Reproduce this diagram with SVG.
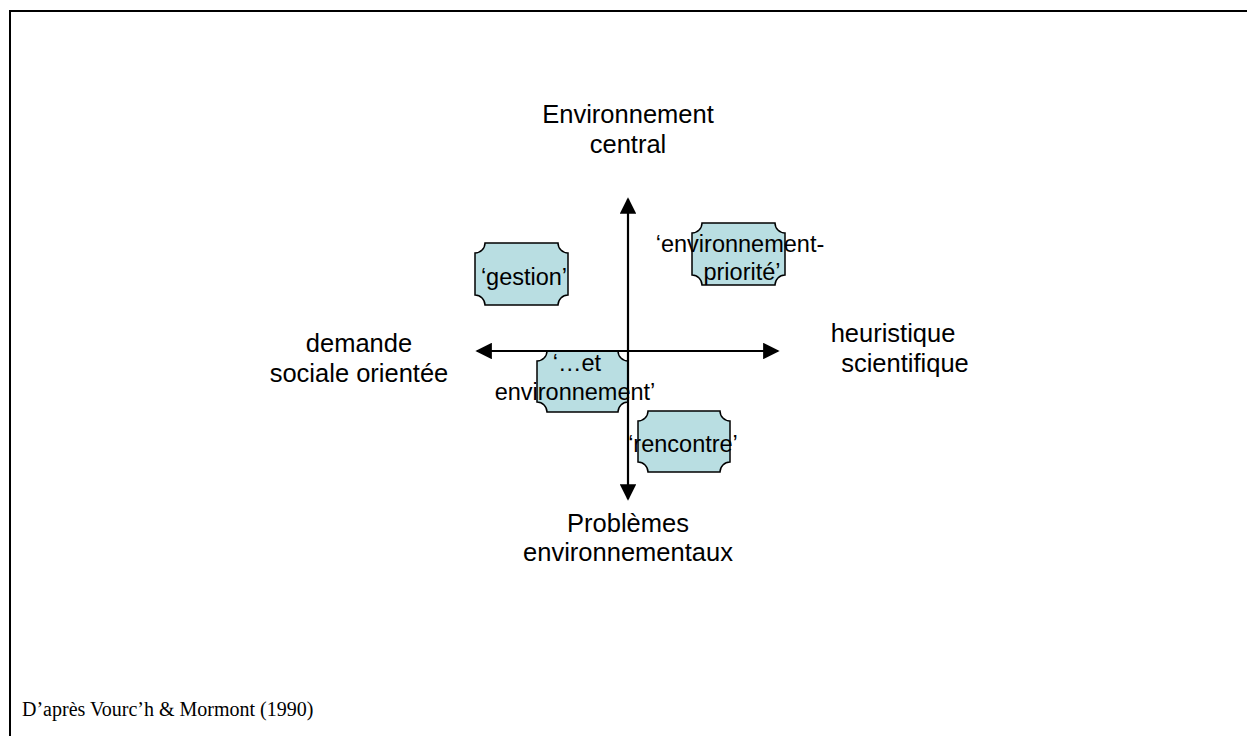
<svg xmlns="http://www.w3.org/2000/svg" width="1247" height="736" viewBox="0 0 1247 736">
<style>
.lbl{font-family:"Liberation Sans",Arial,sans-serif;font-size:25.5px;fill:#000;text-anchor:middle}
.box{fill:#b9dee2;stroke:#000;stroke-width:1.5}
.bt{font-family:"Liberation Sans",Arial,sans-serif;font-size:23.5px;fill:#000;text-anchor:middle}
.ax{stroke:#000;stroke-width:2.2;fill:none}
.foot{font-family:"Liberation Serif","Times New Roman",serif;font-size:20px;fill:#000}
</style>
<defs>
<marker id="ah" viewBox="0 0 10 10" refX="9" refY="5" markerWidth="7.5" markerHeight="7.5" markerUnits="strokeWidth" orient="auto">
<path d="M0,0 L10,5 L0,10 Z" fill="#000"/>
</marker>
</defs>
<rect x="10" y="11" width="1300" height="800" fill="#fff" stroke="#000" stroke-width="2"/>

<g id="label-top"><text class="lbl" x="628" y="123">Environnement</text><text class="lbl" x="628" y="153">central</text></g>
<g id="label-bottom"><text class="lbl" x="628" y="532">Problèmes</text><text class="lbl" x="628" y="561">environnementaux</text></g>
<g id="label-left"><text class="lbl" x="359" y="352">demande</text><text class="lbl" x="359" y="382">sociale orientée</text></g>
<g id="label-right"><text class="lbl" x="893" y="342">heuristique</text><text class="lbl" x="905" y="372">scientifique</text></g>

<g id="node-gestion">
<path class="box" d="M485,243 H558 A10,10 0 0 0 568,253 V295 A10,10 0 0 0 558,305 H485 A10,10 0 0 0 475,295 V253 A10,10 0 0 0 485,243 Z"/>
<text class="bt" x="524" y="285">‘gestion’</text>
</g>
<g id="node-priorite">
<path class="box" d="M702,223 H775 A10,10 0 0 0 785,233 V275 A10,10 0 0 0 775,285 H702 A10,10 0 0 0 692,275 V233 A10,10 0 0 0 702,223 Z"/>
<text class="bt" x="740" y="252">‘environnement-</text>
<text class="bt" x="742" y="280">priorité’</text>
</g>
<g id="node-et">
<path class="box" d="M547,351 H618 A10,10 0 0 0 628,361 V402 A10,10 0 0 0 618,412 H547 A10,10 0 0 0 537,402 V361 A10,10 0 0 0 547,351 Z"/>
<text class="bt" x="577" y="371">‘…et</text>
<text class="bt" x="575" y="400">environnement’</text>
</g>
<g id="node-rencontre">
<path class="box" d="M648,411 H720 A10,10 0 0 0 730,421 V462 A10,10 0 0 0 720,472 H648 A10,10 0 0 0 638,462 V421 A10,10 0 0 0 648,411 Z"/>
<text class="bt" x="683" y="452">‘rencontre’</text>
</g>

<g id="connectors">
<line class="ax" x1="628" y1="351" x2="628" y2="199" marker-end="url(#ah)"/>
<line class="ax" x1="628" y1="351" x2="628" y2="499" marker-end="url(#ah)"/>
<line class="ax" x1="628" y1="351" x2="477" y2="351" marker-end="url(#ah)"/>
<line class="ax" x1="628" y1="351" x2="778" y2="351" marker-end="url(#ah)"/>
</g>

<text class="foot" x="22" y="716">D’après Vourc’h &amp; Mormont (1990)</text>
</svg>
